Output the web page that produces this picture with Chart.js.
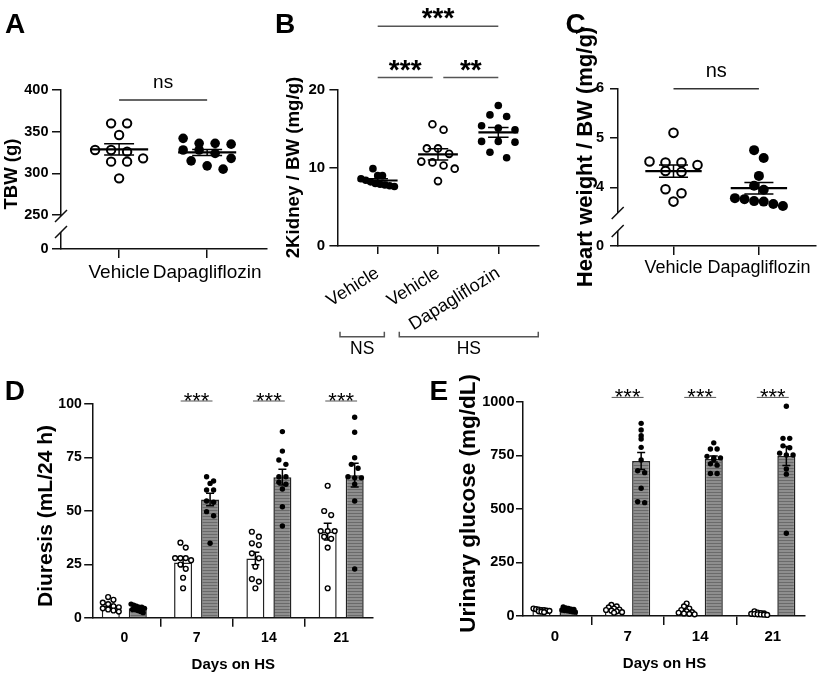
<!DOCTYPE html>
<html>
<head>
<meta charset="utf-8">
<title>Dapagliflozin figure</title>
<script src="https://cdn.jsdelivr.net/npm/chart.js@4.4.1/dist/chart.umd.min.js"></script>
<style>
html, body { margin:0; padding:0; background:#fff; }
#fig { position:relative; width:822px; height:677px; overflow:hidden; background:#fff; }
#fig canvas { position:absolute; left:0; top:0; }
</style>
</head>
<body>
<div id="fig">
<canvas id="chartA" width="822" height="677"></canvas>
<canvas id="chartB" width="822" height="677"></canvas>
<canvas id="chartC" width="822" height="677"></canvas>
<canvas id="chartD" width="822" height="677"></canvas>
<canvas id="chartE" width="822" height="677"></canvas>
</div>
<script>
// ================= DATA =================
// Panel A - total body weight (g)
const treatmentLabels = ['Vehicle', 'Dapagliflozin'];
const tbwVehicle = [360, 360, 346, 328, 328, 326, 318, 314, 314, 294];
const tbwDapagliflozin = [342, 336, 336, 335, 328, 328, 324, 318, 315, 309, 305];
const tbwTicks = [250, 300, 350, 400];
const tbwBreakTicks = [0];

// Panel B - 2 kidney / BW (mg/g)
const kidneyLabels = ['Vehicle', 'Vehicle', 'Dapagliflozin'];
const kidneyDietGroups = ['NS', 'HS'];
const kidneyNsVehicle = [9.9, 9.0, 9.0, 8.6, 8.4, 8.2, 8.0, 7.9, 7.8, 7.7, 7.6];
const kidneyHsVehicle = [15.6, 14.9, 12.5, 12.5, 11.8, 10.8, 10.7, 10.3, 9.9, 8.3];
const kidneyHsDapagliflozin = [18.0, 16.8, 16.6, 15.4, 15.1, 14.9, 13.4, 13.4, 13.3, 12.0, 11.3];
const kidneyTicks = [0, 10, 20];

// Panel C - heart weight / BW (mg/g)
const heartVehicle = [5.10, 4.52, 4.50, 4.50, 4.45, 4.33, 4.31, 3.96, 3.88, 3.71];
const heartDapagliflozin = [4.75, 4.59, 4.23, 4.03, 3.95, 3.78, 3.76, 3.72, 3.71, 3.66, 3.62];
const heartTicks = [4, 5, 6];
const heartBreakTicks = [0];

// Panel D - diuresis (mL/24 h)
const daysOnHS = ['0', '7', '14', '21'];
const diuresisVehicleDay0 = [9.8, 8.5, 7.2, 6.5, 5.5, 5.0, 4.5, 4.0, 3.5, 3.0];
const diuresisVehicleDay7 = [35.2, 32.9, 28.0, 28.0, 28.0, 27.0, 25.0, 23.0, 18.8, 13.9];
const diuresisVehicleDay14 = [40.3, 38.0, 34.9, 34.1, 30.2, 27.9, 24.0, 18.2, 17.0, 13.9];
const diuresisVehicleDay21 = [61.8, 50.0, 48.1, 40.6, 40.6, 40.6, 38.0, 37.0, 32.9, 13.9];
const diuresisDapagliflozinDay0 = [6.5, 6.0, 5.5, 5.0, 5.0, 4.5, 4.0, 4.0, 3.5, 3.0, 2.5];
const diuresisDapagliflozinDay7 = [66.0, 64.0, 62.9, 59.8, 59.8, 54.7, 54.1, 49.7, 47.8, 34.9];
const diuresisDapagliflozinDay14 = [87.1, 78.0, 73.8, 71.8, 66.0, 66.0, 63.4, 62.5, 60.3, 52.0, 43.0];
const diuresisDapagliflozinDay21 = [93.8, 86.8, 74.9, 71.8, 70.0, 66.0, 65.5, 65.5, 62.5, 54.7, 22.9];
const diuresisTicks = [0, 25, 50, 75, 100];

// Panel E - urinary glucose (mg/dL)
const glucoseVehicleDay0 = [35, 32, 30, 28, 27, 25, 24, 22, 20, 18];
const glucoseVehicleDay7 = [52, 45, 40, 35, 30, 28, 25, 22, 18, 15];
const glucoseVehicleDay14 = [58, 45, 35, 28, 22, 18, 15, 12, 10, 8];
const glucoseVehicleDay21 = [22, 16, 14, 12, 10, 9, 8, 7, 6, 5];
const glucoseDapagliflozinDay0 = [42, 38, 35, 32, 30, 28, 26, 24, 22, 20, 18];
const glucoseDapagliflozinDay7 = [899, 868, 841, 826, 787, 728, 678, 669, 596, 533, 529];
const glucoseDapagliflozinDay14 = [808, 779, 779, 745, 738, 738, 730, 710, 704, 665, 665];
const glucoseDapagliflozinDay21 = [979, 829, 829, 794, 785, 760, 751, 751, 686, 662, 386];
const glucoseTicks = [0, 250, 500, 750, 1000];

// ================= HELPERS =================
const FONT = "'Liberation Sans', Arial, Helvetica, sans-serif";
Chart.defaults.font.family = FONT;
Chart.defaults.color = '#000';
Chart.defaults.animation = false;

function mean(a) { return a.reduce((s, v) => s + v, 0) / a.length; }
function sem(a) {
  const m = mean(a);
  const sd = Math.sqrt(a.reduce((s, v) => s + (v - m) * (v - m), 0) / (a.length - 1));
  return sd / Math.sqrt(a.length);
}
function fixW(w) { return s => { s.width = w; s.paddingTop = 0; s.paddingBottom = 0; s.paddingLeft = 0; s.paddingRight = 0; }; }
function fixH(h) { return s => { s.height = h; s.paddingTop = 0; s.paddingBottom = 0; s.paddingLeft = 0; s.paddingRight = 0; }; }
function frame(a, yW, xH) {
  return { padding: { left: a.left - yW, top: a.top, right: 822 - a.right, bottom: 677 - a.bottom - xH } };
}
const axisBorder = { display: true, color: '#111', width: 1.5 };
function tickGrid(len) { return { display: true, drawOnChartArea: false, drawTicks: true, tickLength: len, color: '#111', lineWidth: 1.5 }; }

function xIndexAxis(labels, min, max, font, tickLen, pad, h, extra, rot) {
  return Object.assign({
    type: 'linear', position: 'bottom', min: min, max: max,
    afterBuildTicks: s => { s.ticks = labels.map((_, i) => ({ value: i })); },
    afterFit: fixH(h),
    ticks: { callback: v => labels[Math.round(v)], autoSkip: false, maxRotation: rot || 0, minRotation: rot || 0, font: font, padding: pad, color: '#000' },
    grid: tickGrid(tickLen),
    border: axisBorder
  }, extra || {});
}
function yValueAxis(tickValues, min, max, font, tickLen, pad, w, extra) {
  return Object.assign({
    type: 'linear', position: 'left', min: min, max: max,
    afterBuildTicks: s => { s.ticks = tickValues.map(v => ({ value: v })); },
    afterFit: fixW(w),
    ticks: { callback: v => String(v), autoSkip: false, font: font, padding: pad, color: '#000' },
    grid: tickGrid(tickLen),
    border: axisBorder
  }, extra || {});
}

// Prism-like row swarm: values within binPx of a row start share a row, spread symmetrically
function swarmOffsets(values, toPx, binPx, widthPx, maxSp) {
  const order = values.map((v, i) => i).sort((a, b) => values[b] - values[a]);
  const rows = [];
  let k = 0;
  while (k < order.length) {
    const start = toPx(values[order[k]]);
    const row = [order[k++]];
    while (k < order.length && toPx(values[order[k]]) - start < binPx) row.push(order[k++]);
    rows.push(row);
  }
  const maxRow = Math.max.apply(null, rows.map(r => r.length));
  const sp = maxRow > 1 ? Math.min(maxSp, widthPx / (maxRow - 1)) : 0;
  const off = new Array(values.length).fill(0);
  rows.forEach(row => row.forEach((idx, j) => { off[idx] = (j - (row.length - 1) / 2) * sp; }));
  return off;
}
function swarmData(chart, yId, groups, centerPx, binPx, widthPx, maxSp) {
  const xs = chart.scales.x, ys = chart.scales[yId];
  const pts = [];
  groups.forEach((vals, g) => {
    const cx = centerPx(g);
    const off = swarmOffsets(vals, v => ys.getPixelForValue(v), binPx, widthPx, maxSp);
    vals.forEach((v, k) => pts.push({ x: xs.getValueForPixel(cx + off[k]), y: v }));
  });
  return pts;
}

// ---------- plugins ----------
function textsPlugin(items) {
  return { id: 'texts', afterDraw(chart) {
    const ctx = chart.ctx;
    items.forEach(t => {
      ctx.save();
      ctx.font = t.font; ctx.fillStyle = '#000';
      ctx.textAlign = t.align || 'left'; ctx.textBaseline = 'alphabetic';
      ctx.translate(t.x, t.y);
      if (t.rotate) ctx.rotate(t.rotate);
      ctx.fillText(t.text, 0, 0);
      ctx.restore();
    });
  }};
}
function sigPlugin(items, yId, font, textDy, color, width) {
  return { id: 'sig', afterDraw(chart) {
    const xs = chart.scales.x, ys = chart.scales[yId], ctx = chart.ctx;
    items.forEach(s => {
      const x1 = xs.getPixelForValue(s.from), x2 = xs.getPixelForValue(s.to), y = ys.getPixelForValue(s.y);
      ctx.save();
      ctx.strokeStyle = color; ctx.lineWidth = width;
      ctx.beginPath(); ctx.moveTo(x1, y); ctx.lineTo(x2, y); ctx.stroke();
      ctx.font = font; ctx.fillStyle = '#000'; ctx.textAlign = 'center'; ctx.textBaseline = 'alphabetic';
      ctx.fillText(s.text, (x1 + x2) / 2, y + textDy);
      ctx.restore();
    });
  }};
}
function meanSemPlugin(groups, yId, halfMean, halfCap) {
  return { id: 'meanSem', afterDatasetsDraw(chart) {
    const xs = chart.scales.x, ys = chart.scales[yId], ctx = chart.ctx;
    ctx.save(); ctx.strokeStyle = '#000';
    groups.forEach((vals, g) => {
      const m = mean(vals), e = sem(vals);
      const y = ys.getPixelForValue(m), yt = ys.getPixelForValue(m + e), yb = ys.getPixelForValue(m - e);
      const xc = xs.getPixelForValue(g);
      ctx.lineWidth = 2.2;
      ctx.beginPath(); ctx.moveTo(xs.getPixelForValue(g - halfMean), y); ctx.lineTo(xs.getPixelForValue(g + halfMean), y); ctx.stroke();
      ctx.lineWidth = 1.5;
      ctx.beginPath();
      ctx.moveTo(xc, yt); ctx.lineTo(xc, yb);
      ctx.moveTo(xs.getPixelForValue(g - halfCap), yt); ctx.lineTo(xs.getPixelForValue(g + halfCap), yt);
      ctx.moveTo(xs.getPixelForValue(g - halfCap), yb); ctx.lineTo(xs.getPixelForValue(g + halfCap), yb);
      ctx.stroke();
    });
    ctx.restore();
  }};
}
function barErrorPlugin(groupsByDataset) {
  return { id: 'barErrors', afterDatasetDraw(chart, args) {
    const groups = groupsByDataset[args.index];
    if (!groups) return;
    const ys = chart.scales.y, ctx = chart.ctx, els = args.meta.data;
    ctx.save(); ctx.strokeStyle = '#000'; ctx.lineWidth = 1.5;
    groups.forEach((vals, g) => {
      const m = mean(vals), e = sem(vals), x = els[g].x;
      const yt = ys.getPixelForValue(m + e), yb = ys.getPixelForValue(m - e);
      ctx.beginPath();
      ctx.moveTo(x, yb); ctx.lineTo(x, yt);
      ctx.moveTo(x - 4, yt); ctx.lineTo(x + 4, yt);
      ctx.moveTo(x - 4, yb); ctx.lineTo(x + 4, yb);
      ctx.stroke();
    });
    ctx.restore();
  }};
}
function breakPlugin(topId, botId, gapTopDy, gapBotDy) {
  return { id: 'axisBreak', afterDraw(chart) {
    const top = chart.scales[topId], bot = chart.scales[botId], ctx = chart.ctx;
    const x = top.right;
    const y1 = top.bottom + gapTopDy, y2 = bot.top + gapBotDy;
    ctx.save();
    ctx.fillStyle = '#fff';
    ctx.fillRect(x - 2, y1, 4, y2 - y1);
    ctx.strokeStyle = '#111'; ctx.lineWidth = 1.5;
    ctx.beginPath();
    ctx.moveTo(x - 6, y1 + 6); ctx.lineTo(x + 6, y1 - 6);
    ctx.moveTo(x - 6, y2 + 6); ctx.lineTo(x + 6, y2 - 6);
    ctx.stroke();
    ctx.restore();
  }};
}
function bracketPlugin(items, dy, labelDy, font) {
  return { id: 'brackets', afterDraw(chart) {
    const xs = chart.scales.x, ctx = chart.ctx;
    const y = chart.chartArea.bottom + dy;
    items.forEach(b => {
      const x1 = xs.getPixelForValue(b.from), x2 = xs.getPixelForValue(b.to);
      ctx.save();
      ctx.strokeStyle = '#555'; ctx.lineWidth = 1.5;
      ctx.beginPath(); ctx.moveTo(x1, y - 5); ctx.lineTo(x1, y); ctx.lineTo(x2, y); ctx.lineTo(x2, y - 5); ctx.stroke();
      ctx.font = font; ctx.fillStyle = '#000'; ctx.textAlign = 'center'; ctx.textBaseline = 'alphabetic';
      ctx.fillText(b.text, (x1 + x2) / 2, y + labelDy);
      ctx.restore();
    });
  }};
}
function stripePattern() {
  const c = document.createElement('canvas'); c.width = 4; c.height = 3;
  const g = c.getContext('2d');
  g.fillStyle = '#8e8e8e'; g.fillRect(0, 0, 4, 3);
  g.fillStyle = '#6a6a6a'; g.fillRect(0, 0, 4, 1);
  return g.createPattern(c, 'repeat');
}
const noLegend = { legend: { display: false }, tooltip: { enabled: false } };
const openDot = (r, bw) => ({ pointRadius: r, pointBorderWidth: bw, pointBackgroundColor: '#fff', pointBorderColor: '#000', pointHoverRadius: r, clip: false });
const fillDot = (r) => ({ pointRadius: r, pointBorderWidth: 0, pointBackgroundColor: '#000', pointBorderColor: '#000', pointHoverRadius: r, clip: false });
const bold = (s) => `bold ${s}px ${FONT}`;
const reg = (s) => `${s}px ${FONT}`;

// ================= PANEL A =================
const chartA = new Chart(document.getElementById('chartA'), {
  type: 'scatter',
  data: { datasets: [
    Object.assign({ label: 'Vehicle', data: tbwVehicle.map(v => ({ x: 0, y: v })), yAxisID: 'y' }, openDot(4.2, 2)),
    Object.assign({ label: 'Dapagliflozin', data: tbwDapagliflozin.map(v => ({ x: 1, y: v })), yAxisID: 'y' }, fillDot(4.8))
  ]},
  options: {
    responsive: false, devicePixelRatio: 1, animation: false, events: [],
    layout: frame({ left: 61, right: 267, top: 90, bottom: 249 }, 50, 40),
    plugins: noLegend,
    scales: {
      x: xIndexAxis(treatmentLabels, -0.66, 1.68, { size: 19 }, 9, 3.3, 40),
      y: yValueAxis(tbwTicks, 250, 400, { size: 14.5, weight: 'bold' }, 9, 3.5, 50, { stack: 'tbw', stackWeight: 125, weight: 2 }),
      y0: yValueAxis(tbwBreakTicks, 0, 1, { size: 14.5, weight: 'bold' }, 9, 3.5, 50, { stack: 'tbw', stackWeight: 34, weight: 1 })
    }
  },
  plugins: [
    meanSemPlugin([tbwVehicle, tbwDapagliflozin], 'y', 0.33, 0.17),
    breakPlugin('y', 'y0', 1, 17),
    sigPlugin([{ from: 0, to: 1, y: 388, text: 'ns' }], 'y', reg(19), -11.7, '#333', 1.5),
    textsPlugin([
      { text: 'A', x: 5, y: 33.3, font: bold(28) },
      { text: 'TBW (g)', x: 17, y: 174, font: bold(18.5), align: 'center', rotate: -Math.PI / 2 }
    ])
  ]
});
chartA.data.datasets[0].data = swarmData(chartA, 'y', [tbwVehicle], () => chartA.scales.x.getPixelForValue(0), 9, 48, 17);
chartA.data.datasets[1].data = swarmData(chartA, 'y', [tbwDapagliflozin], () => chartA.scales.x.getPixelForValue(1), 9, 48, 17);
chartA.update('none');

// ================= PANEL B =================
const kidneyGroupsData = [kidneyNsVehicle, kidneyHsVehicle, kidneyHsDapagliflozin];
const chartB = new Chart(document.getElementById('chartB'), {
  type: 'scatter',
  data: { datasets: [
    Object.assign({ label: 'NS Vehicle', data: kidneyNsVehicle.map(v => ({ x: 0, y: v })) }, fillDot(3.8)),
    Object.assign({ label: 'HS Vehicle', data: kidneyHsVehicle.map(v => ({ x: 1, y: v })) }, openDot(3.4, 1.8)),
    Object.assign({ label: 'HS Dapagliflozin', data: kidneyHsDapagliflozin.map(v => ({ x: 2, y: v })) }, fillDot(3.8))
  ]},
  options: {
    responsive: false, devicePixelRatio: 1, animation: false, events: [],
    layout: frame({ left: 337.7, right: 539, top: 90, bottom: 245.7 }, 50, 110),
    plugins: noLegend,
    scales: {
      x: xIndexAxis(kidneyLabels, -0.6633, 2.675, { size: 18 }, 8.3, 8.5, 110, {}, 32),
      y: yValueAxis(kidneyTicks, 0, 20, { size: 15, weight: 'bold' }, 8.3, 4.3, 50)
    }
  },
  plugins: [
    meanSemPlugin(kidneyGroupsData, 'y', 0.33, 0.17),
    sigPlugin([
      { from: 0, to: 2, y: 28.2, text: '***' },
      { from: 0, to: 0.912, y: 21.6, text: '***' },
      { from: 1.088, to: 2, y: 21.6, text: '**' }
    ], 'y', bold(28), 1.0, '#555', 1.5),
    bracketPlugin([
      { from: -0.625, to: 0.11, text: kidneyDietGroups[0] },
      { from: 0.358, to: 2.663, text: kidneyDietGroups[1] }
    ], 91, 17.3, reg(17.5)),
    textsPlugin([
      { text: 'B', x: 275, y: 33.3, font: bold(28) },
      { text: '2Kidney / BW (mg/g)', x: 299, y: 167.5, font: bold(18.7), align: 'center', rotate: -Math.PI / 2 }
    ])
  ]
});
kidneyGroupsData.forEach((vals, g) => {
  chartB.data.datasets[g].data = swarmData(chartB, 'y', [vals], () => chartB.scales.x.getPixelForValue(g), 9, 33.4, 17);
});
chartB.update('none');

// ================= PANEL C =================
const chartC = new Chart(document.getElementById('chartC'), {
  type: 'scatter',
  data: { datasets: [
    Object.assign({ label: 'Vehicle', data: heartVehicle.map(v => ({ x: 0, y: v })), yAxisID: 'y' }, openDot(4.3, 2)),
    Object.assign({ label: 'Dapagliflozin', data: heartDapagliflozin.map(v => ({ x: 1, y: v })), yAxisID: 'y' }, fillDot(5))
  ]},
  options: {
    responsive: false, devicePixelRatio: 1, animation: false, events: [],
    layout: frame({ left: 617.7, right: 821, top: 88.3, bottom: 246 }, 50, 40),
    plugins: noLegend,
    scales: {
      x: xIndexAxis(treatmentLabels, -0.6534, 1.665, { size: 18 }, 9, 2.3, 40),
      y: yValueAxis(heartTicks, 3.5, 6, { size: 14.5, weight: 'bold' }, 7.7, 6, 50, { stack: 'heart', stackWeight: 123.7, weight: 2 }),
      y0: yValueAxis(heartBreakTicks, 0, 1, { size: 14.5, weight: 'bold' }, 7.7, 6, 50, { stack: 'heart', stackWeight: 34, weight: 1 })
    }
  },
  plugins: [
    meanSemPlugin([heartVehicle, heartDapagliflozin], 'y', 0.33, 0.17),
    breakPlugin('y', 'y0', 1, 19),
    sigPlugin([{ from: 0, to: 1, y: 5.99, text: 'ns' }], 'y', reg(20), -11.7, '#333', 1.5),
    textsPlugin([
      { text: 'C', x: 565.5, y: 33.3, font: bold(28) },
      { text: 'Heart weight / BW (mg/g)', x: 592, y: 157, font: bold(22), align: 'center', rotate: -Math.PI / 2 }
    ])
  ]
});
chartC.data.datasets[0].data = swarmData(chartC, 'y', [heartVehicle], () => chartC.scales.x.getPixelForValue(0), 9, 48, 17);
chartC.data.datasets[1].data = swarmData(chartC, 'y', [heartDapagliflozin], () => chartC.scales.x.getPixelForValue(1), 9, 48, 17);
chartC.update('none');

// ================= PANELS D & E (bars + dots) =================
const grayFill = stripePattern();

function barPanel(canvasId, vehGroups, dapaGroups, area, xMin, xMax, yTicks, yMax, cfg) {
  const chart = new Chart(document.getElementById(canvasId), {
    type: 'bar',
    data: { datasets: [
      { type: 'bar', label: 'Vehicle', data: vehGroups.map((a, i) => ({ x: i, y: mean(a) })), backgroundColor: '#fff', borderColor: '#222', borderWidth: 1.5, categoryPercentage: 0.747, barPercentage: 0.667, order: 2 },
      { type: 'bar', label: 'Dapagliflozin', data: dapaGroups.map((a, i) => ({ x: i, y: mean(a) })), backgroundColor: grayFill, borderColor: '#222', borderWidth: 1.5, categoryPercentage: 0.747, barPercentage: 0.667, order: 2 },
      Object.assign({ type: 'scatter', label: 'Vehicle values', data: [], order: 0 }, openDot(2.4, 1.4)),
      Object.assign({ type: 'scatter', label: 'Dapagliflozin values', data: [], order: 0 }, fillDot(2.7))
    ]},
    options: {
      responsive: false, devicePixelRatio: 1, animation: false, events: [],
      layout: frame(area, 50, 50),
      plugins: noLegend,
      scales: {
        x: xIndexAxis(daysOnHS, xMin, xMax, { size: cfg.xFont, weight: 'bold' }, cfg.xTick, cfg.xPad, 50, { offset: false }),
        y: yValueAxis(yTicks, 0, yMax, { size: cfg.yFont, weight: 'bold' }, cfg.yTick, cfg.yPad, 50)
      }
    },
    plugins: [
      barErrorPlugin({ 0: vehGroups, 1: dapaGroups }),
      sigPlugin([1, 2, 3].map(i => ({ from: i - 0.22, to: i + 0.22, y: cfg.sigY, text: '***' })), 'y', reg(22), 7, '#555', 1),
      textsPlugin(cfg.texts)
    ]
  });
  const vb = chart.getDatasetMeta(0).data, db = chart.getDatasetMeta(1).data;
  chart.data.datasets[2].data = swarmData(chart, 'y', vehGroups, g => vb[g].x, cfg.vehBin, cfg.vehW, 7);
  chart.data.datasets[3].data = swarmData(chart, 'y', dapaGroups, g => db[g].x, cfg.dapaBin, 13.4, 7);
  chart.update('none');
  return chart;
}

const diuresisVehicle = [diuresisVehicleDay0, diuresisVehicleDay7, diuresisVehicleDay14, diuresisVehicleDay21];
const diuresisDapagliflozin = [diuresisDapagliflozinDay0, diuresisDapagliflozinDay7, diuresisDapagliflozinDay14, diuresisDapagliflozinDay21];
const chartD = barPanel('chartD', diuresisVehicle, diuresisDapagliflozin,
  { left: 92.7, right: 372.7, top: 404, bottom: 618 }, -0.437, 3.436, diuresisTicks, 100,
  { xFont: 14, xTick: 8.7, xPad: 3.2, yFont: 14, yTick: 8.5, yPad: 2.5, sigY: 101.4, vehW: 16, vehBin: 5, dapaBin: 5,
    texts: [
      { text: 'D', x: 4.7, y: 400, font: bold(28) },
      { text: 'Diuresis (mL/24 h)', x: 51.5, y: 516, font: bold(21), align: 'center', rotate: -Math.PI / 2 },
      { text: 'Days on HS', x: 233.3, y: 668.5, font: bold(15), align: 'center' }
    ] });

const glucoseVehicle = [glucoseVehicleDay0, glucoseVehicleDay7, glucoseVehicleDay14, glucoseVehicleDay21];
const glucoseDapagliflozin = [glucoseDapagliflozinDay0, glucoseDapagliflozinDay7, glucoseDapagliflozinDay14, glucoseDapagliflozinDay21];
const chartE = barPanel('chartE', glucoseVehicle, glucoseDapagliflozin,
  { left: 522.7, right: 804.3, top: 401.7, bottom: 616 }, -0.445, 3.434, glucoseTicks, 1000,
  { xFont: 15, xTick: 9, xPad: 2.5, yFont: 14.5, yTick: 6.7, yPad: 1.5, sigY: 1020, vehW: 16, vehBin: 2.5, dapaBin: 3,
    texts: [
      { text: 'E', x: 429.6, y: 400, font: bold(28) },
      { text: 'Urinary glucose (mg/dL)', x: 475, y: 503.3, font: bold(22.5), align: 'center', rotate: -Math.PI / 2 },
      { text: 'Days on HS', x: 664.5, y: 668, font: bold(15), align: 'center' }
    ] });
</script>
</body>
</html>
